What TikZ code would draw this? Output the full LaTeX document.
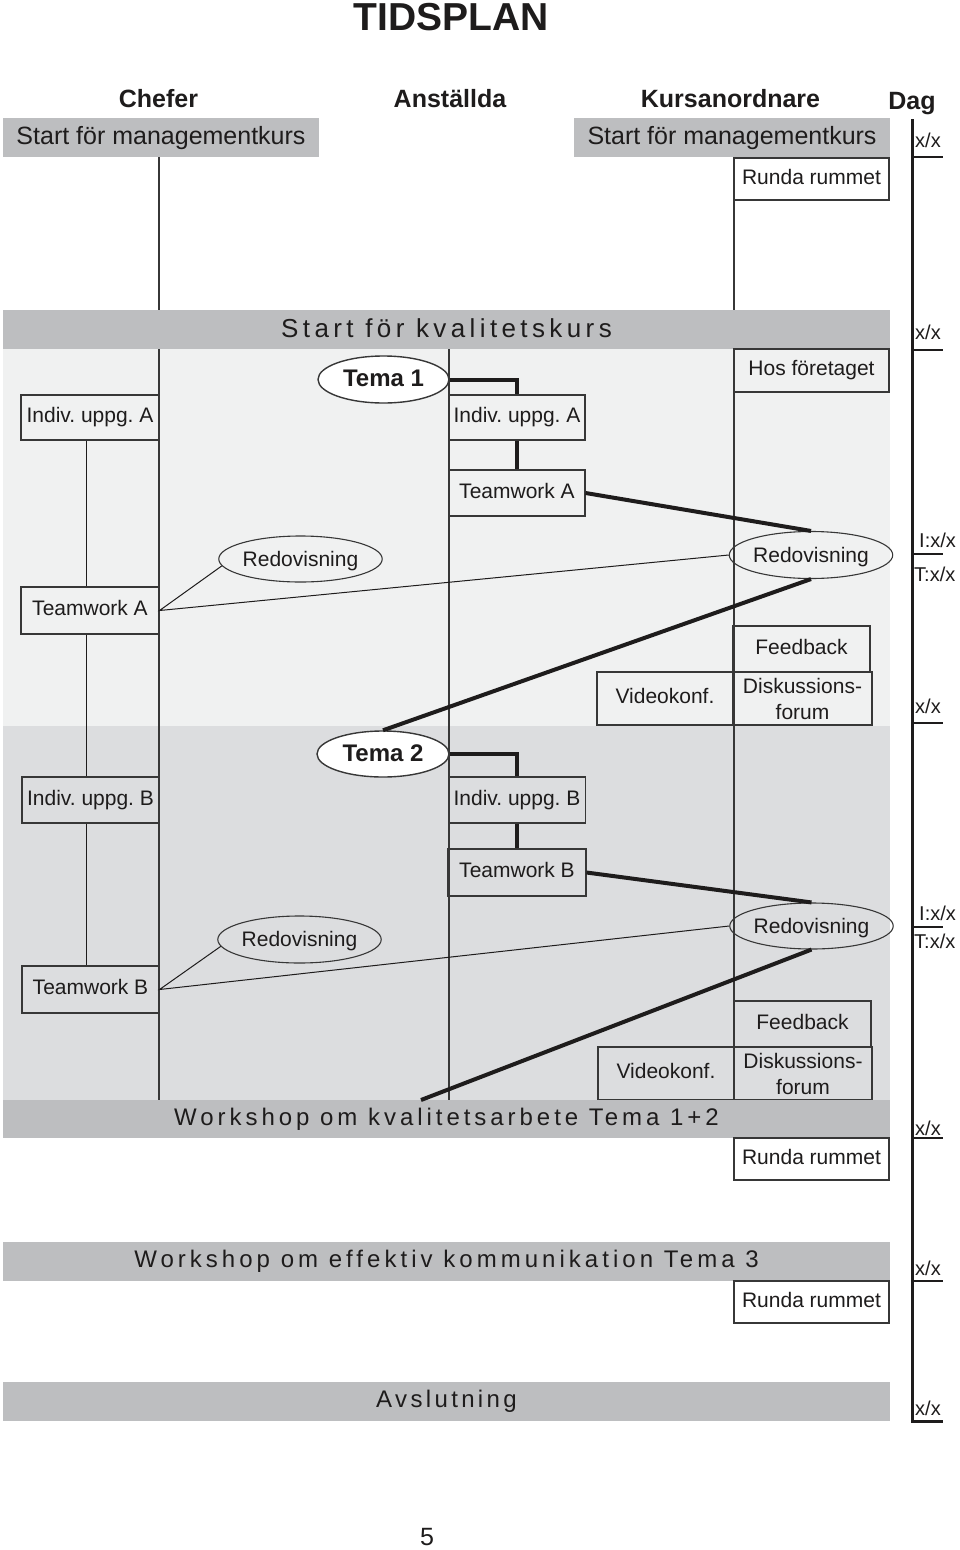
\documentclass[tikz,border=0pt]{standalone}
\usepackage{fontspec}
\setmainfont{Liberation Sans}
\usetikzlibrary{shapes.geometric}
\definecolor{bargray}{RGB}{189,190,192}
\definecolor{lightbg}{RGB}{240,241,241}
\definecolor{darkbg}{RGB}{220,221,223}
\definecolor{ink}{RGB}{30,28,28}
\definecolor{edge}{RGB}{55,55,55}
\tikzset{
  txt/.style={font=\fontsize{21}{26}\selectfont, text=ink},
  oneline/.style={text height=15pt, text depth=5pt},
  box/.style={txt, draw=edge, line width=1.1pt, rectangle, inner sep=0pt, align=center},
  oval/.style={txt, text height=15.5pt, text depth=1.5pt, draw=edge, line width=1.1pt, ellipse, inner sep=0pt},
  tema/.style={oval, fill=white, font=\fontsize{24}{28}\selectfont\bfseries, line width=1.4pt, text height=18pt, text depth=4pt},
  bar/.style={fill=bargray, inner sep=0pt, minimum height=39pt, minimum width=887pt, text=ink, text height=17.5pt, text depth=5.5pt},
  head/.style={font=\fontsize{25}{30}\selectfont\bfseries, text=ink, inner sep=0pt, anchor=base},
  heavy/.style={line width=4pt, draw=ink},
  slim/.style={line width=1pt, draw=ink},
  lane/.style={line width=1.3pt, draw=edge},
  daylbl/.style={font=\fontsize{20}{24}\selectfont, text=ink, inner sep=0pt, anchor=base west},
  dayaxis/.style={line width=3pt, draw=ink},
}
\begin{document}
\frenchspacing
\begin{tikzpicture}[x=1pt,y=-1pt]
\useasboundingbox (0,0) rectangle (960,1550);

% background regions
\fill[lightbg] (3,349) rectangle (890,726);
\fill[darkbg] (3,726) rectangle (890,1100);

% lane lines
\draw[lane] (159,157) -- (159,1100);
\draw[lane] (449,349) -- (449,1100);
\draw[lane] (734,200) -- (734,1100);

% title and headers
\node[head, font=\fontsize{39}{44}\selectfont\bfseries] (title) at (451,30) {TIDSPLAN};
\node[head] (hChef) at (158.5,107) {Chefer};
\node[head] (hAnst) at (450,107) {Anställda};
\node[head] (hKurs) at (730.5,107) {Kursanordnare};
\node[head] (hDag) at (912,109) {Dag};

% management start
\node[bar, minimum width=316pt, font=\fontsize{25}{30}\selectfont, text height=18pt, text depth=5pt] (mgmtL) at (161,137.5) {Start för managementkurs};
\node[bar, minimum width=316pt, font=\fontsize{25}{30}\selectfont, text height=18pt, text depth=5pt] (mgmtR) at (732,137.5) {Start för managementkurs};
\node[box, oneline, fill=white, minimum width=155pt, minimum height=42pt] (runda1) at (811.5,179) {Runda rummet};

% quality course bar
\node[bar, font=\fontsize{26}{30}\selectfont\addfontfeature{LetterSpace=16.9}, text height=19pt, text depth=4pt] (kval) at (446.5,329.5) {Start för kvalitetskurs};

% block A
\node[tema, minimum width=131pt, minimum height=47pt] (tema1) at (383.5,379.5) {Tema 1};
\node[box, oneline, minimum width=138pt, minimum height=45pt] (indivA1) at (90,417.5) {Indiv. uppg. A};
\node[box, oneline, minimum width=136pt, minimum height=45pt] (indivA2) at (517,417.5) {Indiv. uppg. A};
\node[box, oneline, minimum width=155pt, minimum height=43pt] (hos) at (811.5,370.5) {Hos företaget};
\node[box, oneline, minimum width=136pt, minimum height=46pt] (teamA2) at (517,493) {Teamwork A};
\node[oval, minimum width=156pt, minimum height=47pt] (redoR1) at (811,555) {Redovisning};
\node[oval, minimum width=155pt, minimum height=46pt] (redoL1) at (300.5,559) {Redovisning};
\node[box, oneline, minimum width=138pt, minimum height=47pt] (teamA1) at (90,610.5) {Teamwork A};
\node[box, oneline, minimum width=137pt, minimum height=46pt] (feed1) at (801.5,649) {Feedback};
\node[box, minimum width=139pt, minimum height=53pt] (disk1) at (802.5,698.5) {Diskussions-\\forum};
\node[box, oneline, minimum width=136pt, minimum height=53pt] (video1) at (665,698.5) {Videokonf.};

% block B
\node[tema, minimum width=132pt, minimum height=46pt] (tema2) at (383,754) {Tema 2};
\node[box, oneline, minimum width=137pt, minimum height=46pt] (indivB1) at (90.5,800) {Indiv. uppg. B};
\node[box, oneline, minimum width=137pt, minimum height=46pt] (indivB2) at (517,800) {Indiv. uppg. B};
\node[box, oneline, minimum width=138pt, minimum height=47pt] (teamB2) at (517,872.5) {Teamwork B};
\node[oval, minimum width=155pt, minimum height=46pt] (redoR2) at (811.5,926) {Redovisning};
\node[oval, minimum width=155pt, minimum height=47pt] (redoL2) at (299.5,939.5) {Redovisning};
\node[box, oneline, minimum width=137pt, minimum height=47pt] (teamB1) at (90.5,989.5) {Teamwork B};
\node[box, oneline, minimum width=137pt, minimum height=46pt] (feed2) at (802.5,1024) {Feedback};
\node[box, minimum width=138pt, minimum height=53pt] (disk2) at (803,1073.5) {Diskussions-\\forum};
\node[box, oneline, minimum width=136pt, minimum height=53pt] (video2) at (666,1073.5) {Videokonf.};

% workshops
\node[bar, minimum height=38pt, font=\fontsize{24}{28}\selectfont\addfontfeature{LetterSpace=16.5}] (ws1) at (446.5,1119) {Workshop om kvalitetsarbete Tema 1+2};
\coordinate (wsEnd) at (421,1100);
\node[box, oneline, fill=white, minimum width=155pt, minimum height=42pt] (runda2) at (811.5,1159) {Runda rummet};
\node[bar, font=\fontsize{24}{28}\selectfont\addfontfeature{LetterSpace=16.8}] (ws3) at (446.5,1261.5) {Workshop om effektiv kommunikation Tema 3};
\node[box, oneline, fill=white, minimum width=155pt, minimum height=42pt] (runda3) at (811.5,1302) {Runda rummet};
\node[bar, font=\fontsize{24}{28}\selectfont\addfontfeature{LetterSpace=14}] (avsl) at (446.5,1401.5) {Avslutning};

% connectors
\draw[heavy] (tema1.east) -| (indivA2.north);
\draw[heavy] (indivA2.south) -- (teamA2.north);
\draw[heavy] (teamA2.east) -- (redoR1.north);
\draw[heavy] (redoR1.south) -- (tema2.north);
\draw[heavy] (tema2.east) -| (indivB2.north);
\draw[heavy] (indivB2.south) -- (teamB2.north);
\draw[heavy] (teamB2.east) -- (redoR2.north);
\draw[heavy] (redoR2.south) -- (wsEnd);
\draw[slim] (redoL1.185) -- (teamA1.east) -- (redoR1.west);
\draw[slim] (redoL2.185) -- (teamB1.east) -- (redoR2.west);
\draw[slim] ([xshift=-4pt]indivA1.south) -- ([xshift=-4pt]teamA1.north);
\draw[slim] ([xshift=-4pt]teamA1.south) -- ([xshift=-4.5pt]indivB1.north);
\draw[slim] ([xshift=-4.5pt]indivB1.south) -- ([xshift=-4.5pt]teamB1.north);

% day axis
\draw[dayaxis] (912,119) -- (912,1421) -- (943,1421);
\foreach \yy in {157,350,554,723,927,1138,1281}
  \draw[line width=2.5pt, draw=ink] (912,\yy) -- (943,\yy);
\node[daylbl] (d1) at (915,147) {x/x};
\node[daylbl] (d2) at (915,339) {x/x};
\node[daylbl] (d3i) at (919,547) {I:x/x};
\node[daylbl] (d3t) at (914,581) {T:x/x};
\node[daylbl] (d4) at (915,713) {x/x};
\node[daylbl] (d5i) at (919,920) {I:x/x};
\node[daylbl] (d5t) at (914,948) {T:x/x};
\node[daylbl] (d6) at (915,1135) {x/x};
\node[daylbl] (d7) at (915,1275) {x/x};
\node[daylbl] (d8) at (915,1415) {x/x};

% page number
\node[head, font=\fontsize{25}{30}\selectfont] (page) at (427,1545) {5};
\end{tikzpicture}
\end{document}
